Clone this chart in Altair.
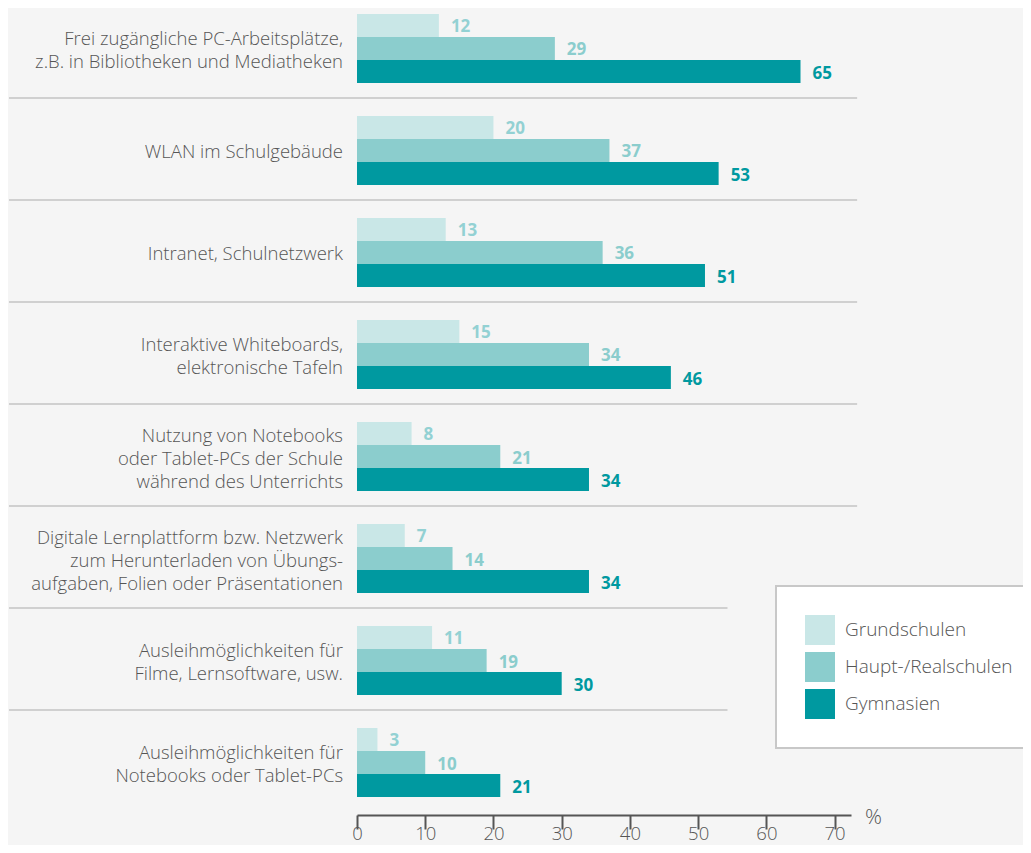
import altair as alt
import pandas as pd

categories = [
    "Frei zugängliche PC-Arbeitsplätze,|z.B. in Bibliotheken und Mediatheken",
    "WLAN im Schulgebäude",
    "Intranet, Schulnetzwerk",
    "Interaktive Whiteboards,|elektronische Tafeln",
    "Nutzung von Notebooks|oder Tablet-PCs der Schule|während des Unterrichts",
    "Digitale Lernplattform bzw. Netzwerk|zum Herunterladen von Übungs-|aufgaben, Folien oder Präsentationen",
    "Ausleihmöglichkeiten für|Filme, Lernsoftware, usw.",
    "Ausleihmöglichkeiten für|Notebooks oder Tablet-PCs",
]
series = ["Grundschulen", "Haupt-/Realschulen", "Gymnasien"]
grundschulen = [12, 20, 13, 15, 8, 7, 11, 3]
haupt_real = [29, 37, 36, 34, 21, 14, 19, 10]
gymnasien = [65, 53, 51, 46, 34, 34, 30, 21]
x_ticks = [0, 10, 20, 30, 40, 50, 60, 70]

bar_colors = ["#c9e7e7", "#8bcdcd", "#0099a0"]
label_colors = ["#93d1d3", "#8bcdcd", "#0099a0"]

rows = []
for i, c in enumerate(categories):
    for s, vals in zip(series, [grundschulen, haupt_real, gymnasien]):
        rows.append({"cat": c, "series": s, "value": vals[i]})
df = pd.DataFrame(rows)

cat_df = pd.DataFrame({
    "cat": categories,
    "n": [len(c.split("|")) for c in categories],
})

XMAX = 72.4
# separators below groups 1..7 (decoration), extents in data units
sep_rows = []
for i, c in enumerate(categories[:-1]):
    sep_rows.append({"cat": c, "x0": -51.0, "x1": 73.3 if i < 5 else 54.3})
sep = pd.DataFrame(sep_rows)

FONT = "Open Sans"
TXT = "#555555"
W, H = 494, 795
LH = 23

yscale = alt.Scale(domain=categories, paddingInner=0.3235, paddingOuter=0.0588)
xscale = alt.Scale(domain=[0, XMAX], nice=False, zero=True)
offscale = alt.Scale(domain=series, paddingInner=0, paddingOuter=0)

y_enc = alt.Y("cat:N", scale=yscale, sort=categories, axis=None)

bars = alt.Chart(df).mark_bar().encode(
    y=y_enc,
    yOffset=alt.YOffset("series:N", sort=series, scale=offscale),
    x=alt.X(
        "value:Q",
        scale=xscale,
        axis=alt.Axis(
            values=x_ticks, offset=12, grid=False, domainColor=TXT,
            domainWidth=2, tickColor=TXT, tickWidth=2, tickSize=14,
            labelFontSize=18.5, labelColor=TXT, labelFont=FONT,
            labelFontWeight=300, labelPadding=10, labelBaseline="alphabetic",
            labelFlush=False,
            title="%", titleX=516, titleY=2, titleAlign="center",
            titleBaseline="middle", titleAngle=0, titleFontSize=21,
            titleFont=FONT, titleFontWeight=300, titleColor=TXT,
        ),
    ),
    color=alt.Color(
        "series:N",
        scale=alt.Scale(domain=series, range=bar_colors),
        legend=alt.Legend(
            title=None, orient="none", legendX=419, legendY=578,
            symbolType="square", symbolSize=900, symbolStrokeWidth=0,
            symbolOpacity=1, labelFontSize=19, labelFont=FONT,
            labelFontWeight=300, labelColor=TXT, labelOffset=10,
            rowPadding=7, padding=29, fillColor="#ffffff",
            strokeColor="#c8c8c8", labelLimit=400,
        ),
    ),
)

labels = alt.Chart(df).mark_text(
    align="left", baseline="middle", dx=12, dy=2, fontSize=17,
    fontWeight="bold", font=FONT,
).encode(
    y=y_enc,
    yOffset=alt.YOffset("series:N", sort=series, scale=offscale),
    x=alt.X("value:Q", scale=xscale),
    text="value:Q",
    color=alt.Color("series:N", scale=alt.Scale(domain=series, range=label_colors), legend=None),
)

cat_layers = []
for n in [1, 2, 3]:
    cat_layers.append(
        alt.Chart(cat_df)
        .transform_filter(alt.datum.n == n)
        .transform_calculate(lines="split(datum.cat, '|')")
        .mark_text(
            align="right", baseline="middle", fontSize=18.5, font=FONT,
            fontWeight=300, color=TXT, lineHeight=LH,
            dy=-(n - 1) * LH / 2 + 2,
        )
        .encode(y=y_enc, x=alt.value(-14), text="lines:N")
    )

rules = alt.Chart(sep).mark_rule(color="#d0d0d0", strokeWidth=2, yOffset=15, clip=False).encode(
    y=alt.Y("cat:N", scale=yscale, sort=categories, bandPosition=1, axis=None),
    x=alt.X("x0:Q", scale=xscale),
    x2="x1:Q",
)

chart = (
    alt.layer(rules, bars, labels, *cat_layers)
    .resolve_scale(color="independent")
    .properties(
        width=W, height=H, background="#f5f5f5",
        autosize=alt.AutoSizeParams(type="none"),
        padding={"left": 349, "top": 0, "right": 172, "bottom": 42},
    )
    .configure_view(stroke=None)
    .configure_legend(strokeWidth=2)
)

chart.save("out.html", embed_options={"renderer": "svg", "actions": False})
